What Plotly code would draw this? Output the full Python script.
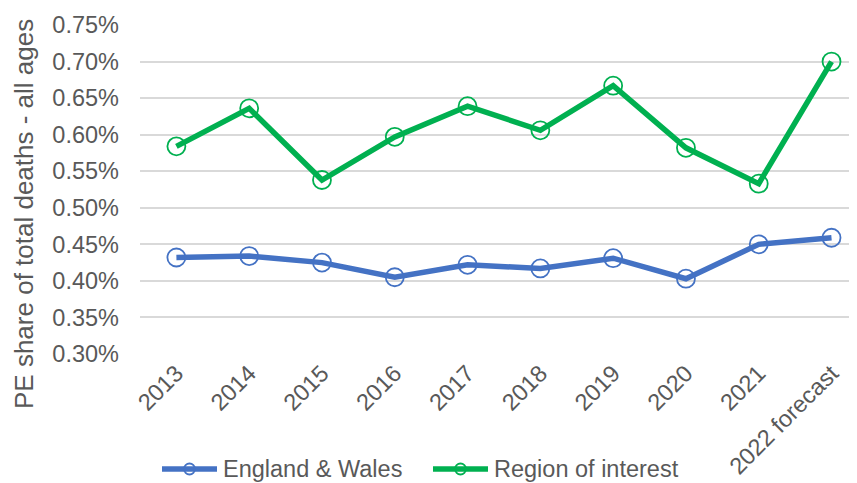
import plotly.graph_objects as go

categories = ["2013", "2014", "2015", "2016", "2017", "2018", "2019", "2020", "2021", "2022 forecast"]
england_wales = [0.00432, 0.00434, 0.00425, 0.00405, 0.00422, 0.00417, 0.00431, 0.00403, 0.00450, 0.00459]
region = [0.00584, 0.00636, 0.00538, 0.00597, 0.00639, 0.00606, 0.00667, 0.00582, 0.00533, 0.00700]
series_names = ["England & Wales", "Region of interest"]
series_colors = ["#4472C4", "#00B050"]
y_title = "PE share of total deaths - all ages"

font = "Liberation Sans, Arial, sans-serif"
grey = "#595959"

W, H = 857, 483
OFF = 8  # page offset of the figure inside the browser
L, T, R, B = 140 - OFF, 25 - OFF, OFF, H - (354 - OFF)
PW, PH = W - L - R, H - T - B


def px(X):
    return (X - OFF - L) / PW


def py(Y):
    return (H - B - (Y - OFF)) / PH


fig = go.Figure()
for name, vals, col in zip(series_names, [england_wales, region], series_colors):
    fig.add_trace(go.Scatter(
        x=categories, y=vals, name=name, mode="lines+markers",
        line=dict(color=col, width=5.5),
        marker=dict(symbol="circle-open", size=18, color=col, line=dict(width=1.8)),
        showlegend=False,
    ))

shapes = []
annotations = [dict(text=y_title, xref="paper", yref="paper", x=px(24), y=py(214),
                    xanchor="center", yanchor="middle", textangle=-90, showarrow=False,
                    font=dict(size=26, color=grey))]
leg_x = [162, 433]
leg_y = 469
for lx, name, col in zip(leg_x, series_names, series_colors):
    shapes.append(dict(type="line", xref="paper", yref="paper", x0=px(lx), x1=px(lx + 55),
                       y0=py(leg_y), y1=py(leg_y), line=dict(color=col, width=5.5)))
    shapes.append(dict(type="circle", xref="paper", yref="paper",
                       x0=px(lx + 22), x1=px(lx + 33), y0=py(leg_y - 5.5), y1=py(leg_y + 5.5),
                       line=dict(color=col, width=1.8), fillcolor="rgba(0,0,0,0)"))
    annotations.append(dict(text=name, xref="paper", yref="paper", x=px(lx + 59), y=py(leg_y),
                            xanchor="left", yanchor="middle", showarrow=False,
                            font=dict(size=23.5, color=grey)))

fig.update_layout(
    width=W, height=H,
    margin=dict(l=L, r=R, t=T, b=B),
    paper_bgcolor="white", plot_bgcolor="white",
    font=dict(family=font, size=23.5, color=grey),
    showlegend=False,
    xaxis=dict(type="category", range=[-0.5, 9.35], showgrid=False, zeroline=False,
               tickangle=-45, tickfont=dict(size=23.5, color=grey), showline=False, ticks="",
               automargin=False),
    yaxis=dict(range=[0.003, 0.0075], dtick=0.0005, tickformat=".2%", showgrid=True,
               gridcolor="#D9D9D9", gridwidth=1.5, zeroline=False, showline=False,
               tickfont=dict(size=23.5, color=grey), ticklabelstandoff=20, automargin=False),
    shapes=shapes,
    annotations=annotations,
)

fig.write_html("out.html")
